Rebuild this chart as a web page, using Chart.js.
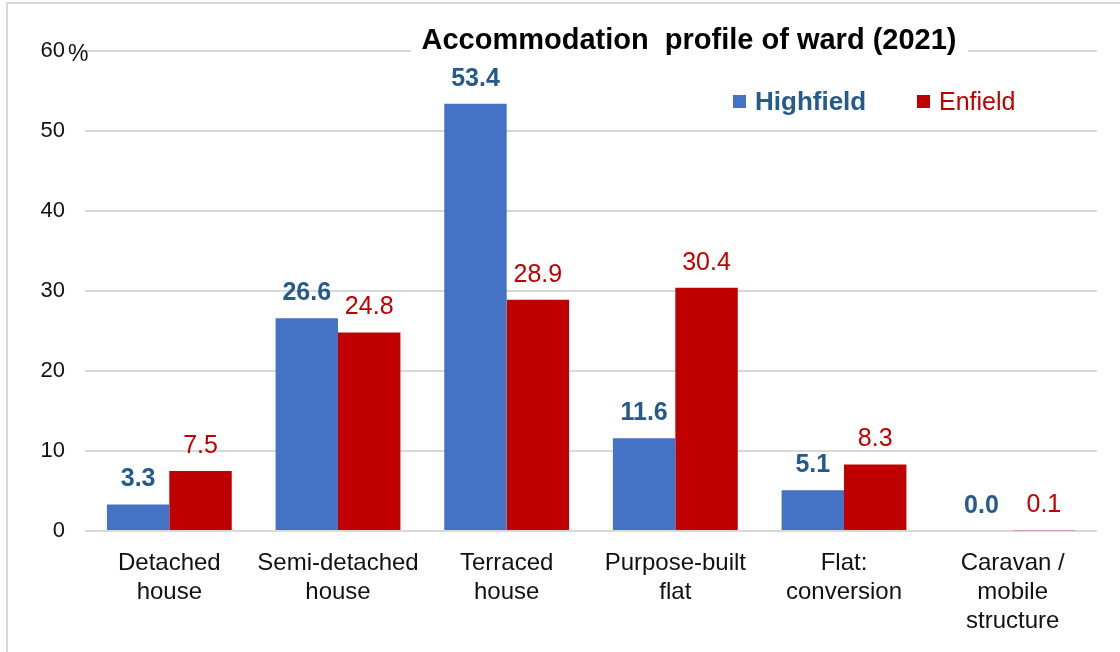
<!DOCTYPE html>
<html>
<head>
<meta charset="utf-8">
<script src="https://cdn.jsdelivr.net/npm/chart.js@4/dist/chart.umd.min.js"></script>
<style>
    html, body { margin: 0; padding: 0; background: #fff; overflow: hidden; }
    .frame {
        position: absolute; left: 6px; top: 2px;
        width: 1200px; height: 700px;
        border: 2px solid #d9d9d9;
    }
    #chart { position: absolute; left: 0; top: 0; }
</style>
</head>
<body>
<div class="frame"></div>
<canvas id="chart" width="1120" height="652"></canvas>
<script>
const categories = [
    ['Detached', 'house'],
    ['Semi-detached', 'house'],
    ['Terraced', 'house'],
    ['Purpose-built', 'flat'],
    ['Flat:', 'conversion'],
    ['Caravan /', 'mobile', 'structure']
];
const highfield = [3.3, 26.6, 53.4, 11.6, 5.1, 0.0];
const enfield = [7.5, 24.8, 28.9, 30.4, 8.3, 0.1];
const yTicks = [0, 10, 20, 30, 40, 50, 60];

const FONT = "'Liberation Sans', Arial, sans-serif";
const BLUE = '#4472C4';
const RED = '#C00000';
const BLUE_TEXT = '#245A8C';

// title sits on top of the 60 gridline with a white box behind it
const titlePlugin = {
    id: 'boxTitle',
    afterDraw(chart) {
        const ctx = chart.ctx;
        ctx.save();
        ctx.fillStyle = '#fff';
        ctx.fillRect(411, 20, 557, 42);
        ctx.font = 'bold 29px ' + FONT;
        ctx.fillStyle = '#000';
        ctx.textAlign = 'center';
        ctx.textBaseline = 'alphabetic';
        ctx.fillText('Accommodation  profile of ward (2021)', 689, 49);
        ctx.restore();
    }
};

// legend drawn inside the plot area
const legendPlugin = {
    id: 'innerLegend',
    afterDraw(chart) {
        const ctx = chart.ctx;
        const items = [
            { x: 733, font: 'bold 26px ' + FONT, text: BLUE_TEXT },
            { x: 917, font: '25px ' + FONT, text: RED }
        ];
        ctx.save();
        chart.data.datasets.forEach((ds, i) => {
            const it = items[i];
            ctx.fillStyle = ds.backgroundColor;
            ctx.fillRect(it.x, 95, 13, 13);
            ctx.font = it.font;
            ctx.fillStyle = it.text;
            ctx.textBaseline = 'alphabetic';
            ctx.textAlign = 'left';
            ctx.fillText(ds.label, it.x + 22, 110);
        });
        ctx.restore();
    }
};

// value labels above the bars, plus the % after the top tick
const valuePlugin = {
    id: 'valueLabels',
    afterDatasetsDraw(chart) {
        const ctx = chart.ctx;
        ctx.save();
        ctx.textAlign = 'center';
        ctx.textBaseline = 'middle';
        chart.data.datasets.forEach((ds, i) => {
            const meta = chart.getDatasetMeta(i);
            ctx.font = (i === 0 ? 'bold ' : '') + '25px ' + FONT;
            ctx.fillStyle = i === 0 ? BLUE_TEXT : RED;
            meta.data.forEach((bar, j) => {
                ctx.fillText(ds.data[j].toFixed(1), bar.x, bar.y - 25);
            });
        });
        const y = chart.scales.y;
        ctx.font = '23px ' + FONT;
        ctx.fillStyle = '#111';
        ctx.textAlign = 'left';
        ctx.fillText('%', 68, y.getPixelForValue(60) + 4);
        ctx.restore();
    }
};

new Chart(document.getElementById('chart'), {
    type: 'bar',
    data: {
        labels: categories,
        datasets: [
            { label: 'Highfield', data: highfield, backgroundColor: BLUE },
            { label: 'Enfield', data: enfield, backgroundColor: RED }
        ]
    },
    options: {
        responsive: false,
        animation: false,
        categoryPercentage: 0.74,
        barPercentage: 1,
        layout: { padding: { left: 0, right: 23, top: 51, bottom: 0 } },
        plugins: {
            legend: { display: false },
            tooltip: { enabled: false }
        },
        scales: {
            x: {
                grid: { display: false },
                border: { display: false },
                ticks: {
                    color: '#111',
                    font: { family: FONT, size: 24, lineHeight: 1.2 },
                    padding: 10,
                    maxRotation: 0,
                    autoSkip: false
                },
                afterFit(scale) { scale.height = 121; }
            },
            y: {
                min: 0,
                max: 60,
                afterBuildTicks(scale) {
                    scale.ticks = yTicks.map(v => ({ value: v }));
                },
                grid: { color: '#d9d9d9', lineWidth: 2, drawTicks: false },
                border: { display: false },
                ticks: {
                    color: '#111',
                    font: { family: FONT, size: 22 },
                    padding: 20
                },
                afterFit(scale) { scale.width = 85; }
            }
        }
    },
    plugins: [valuePlugin, titlePlugin, legendPlugin]
});
</script>
</body>
</html>
